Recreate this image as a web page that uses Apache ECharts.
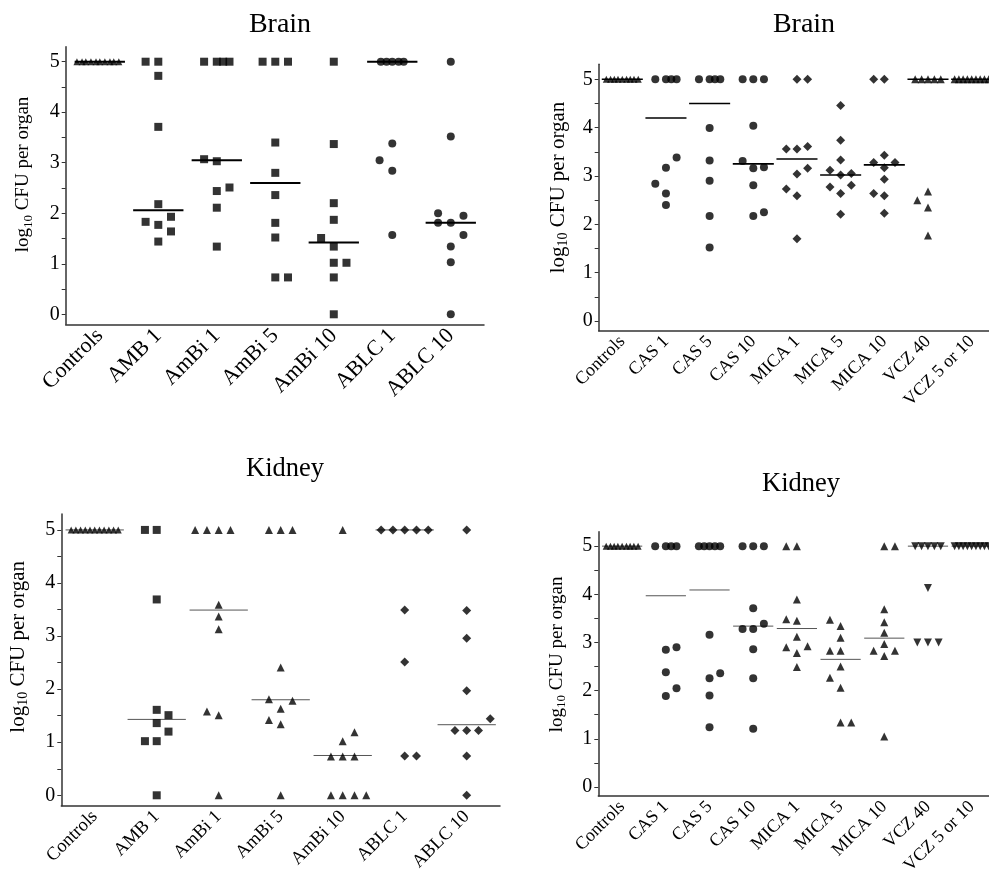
<!DOCTYPE html>
<html>
<head>
<meta charset="utf-8">
<script src="https://cdn.jsdelivr.net/npm/echarts@6/dist/echarts.min.js"></script>
<style>html,body{margin:0;padding:0;background:#fff;}#c{width:989px;height:880px;}</style>
</head>
<body>
<div id="c"></div>
<script>
// ---------- DATA (lane offset, log10 CFU) ----------
const TITLES = ['Brain', 'Brain', 'Kidney', 'Kidney'];
const Y_TICKS = [0, 1, 2, 3, 4, 5];
const Y_MINOR = [0, 0.5, 1, 1.5, 2, 2.5, 3, 3.5, 4, 4.5, 5];

// Panel A: Brain, polyenes
const A_CATS = ['Controls', 'AMB 1', 'AmBi 1', 'AmBi 5', 'AmBi 10', 'ABLC 1', 'ABLC 10'];
const A_CONTROLS = [[-1.8,5],[-1.4,5],[-1.1,5],[-0.7,5],[-0.3,5],[0,5],[0.4,5],[0.8,5],[1.1,5],[1.5,5]];
const A_AMB1 = [[-1,5],[0,5],[0,4.72],[0,3.71],[0,2.18],[-1,1.83],[0,1.77],[1,1.93],[1,1.64],[0,1.44]];
const A_AMBI1 = [[-1,5],[0,5],[0.5,5],[1,5],[-1,3.07],[0,3.03],[0,2.44],[1,2.51],[0,2.11],[0,1.34]];
const A_AMBI5 = [[-1,5],[0,5],[1,5],[0,3.40],[0,2.80],[0,2.36],[0,1.81],[0,1.52],[0,0.73],[1,0.73]];
const A_AMBI10 = [[0,5],[0,3.37],[0,2.20],[0,1.87],[-1,1.51],[0,1.34],[0,1.02],[1,1.02],[0,0.73],[0,0]];
const A_ABLC1 = [[-0.9,5],[-0.45,5],[0,5],[0.5,5],[0.9,5],[-1,3.05],[0,3.38],[0,2.84],[0,1.57]];
const A_ABLC10 = [[0,5],[0,3.52],[-1,2.0],[1,1.95],[-1,1.81],[0,1.81],[1,1.57],[0,1.34],[0,1.03],[0,0]];
const A_MEDIANS = [5, 2.06, 3.05, 2.60, 1.42, 5, 1.81];

// Panel B: Brain, echinocandins / voriconazole
const B_CATS = ['Controls', 'CAS 1', 'CAS 5', 'CAS 10', 'MICA 1', 'MICA 5', 'MICA 10', 'VCZ 40', 'VCZ 5 or 10'];
const B_CONTROLS = [[-1.5,5],[-1.1,5],[-0.75,5],[-0.4,5],[0,5],[0.4,5],[0.75,5],[1.1,5],[1.5,5]];
const B_CAS1 = [[-1,5],[0,5],[0.5,5],[1,5],[-1,2.84],[0,3.17],[0,2.64],[0,2.40],[1,3.38]];
const B_CAS5 = [[-1,5],[0,5],[0.5,5],[1,5],[0,3.99],[0,3.32],[0,2.90],[0,2.17],[0,1.52]];
const B_CAS10 = [[-1,5],[0,5],[1,5],[-1,3.31],[0,4.04],[0,3.16],[1,3.18],[0,2.81],[0,2.17],[1,2.25]];
const B_MICA1 = [[0,5],[1,5],[-1,3.56],[0,3.56],[1,3.61],[0,3.04],[1,3.16],[-1,2.73],[0,2.59],[0,1.70]];
const B_MICA5 = [[0,4.46],[0,3.74],[0,3.33],[-1,3.12],[0,3.02],[1,3.05],[-1,2.77],[1,2.81],[0,2.64],[0,2.21]];
const B_MICA10 = [[-1,5],[0,5],[-1,3.28],[0,3.43],[1,3.28],[0,3.17],[0,2.93],[-1,2.64],[0,2.59],[0,2.23]];
const B_VCZ40 = [[-1.2,5],[-0.6,5],[0,5],[0.6,5],[1.2,5],[-1,2.50],[0,2.68],[0,2.35],[0,1.77]];
const B_VCZ510 = [[-1.6,5],[-1.2,5],[-0.8,5],[-0.4,5],[0,5],[0.4,5],[0.8,5],[1.2,5],[1.6,5]];
const B_MEDIANS = [5, 4.2, 4.5, 3.25, 3.35, 3.02, 3.23, 5, 5];

// Panel C: Kidney, polyenes
const C_CATS = ['Controls', 'AMB 1', 'AmBi 1', 'AmBi 5', 'AmBi 10', 'ABLC 1', 'ABLC 10'];
const C_CONTROLS = [[-2,5],[-1.6,5],[-1.2,5],[-0.8,5],[-0.4,5],[0,5],[0.4,5],[0.8,5],[1.2,5],[1.6,5],[2,5]];
const C_AMB1 = [[-1,5],[0,5],[0,3.69],[0,1.61],[1,1.51],[0,1.36],[1,1.20],[-1,1.02],[0,1.02],[0,0]];
const C_AMBI1 = [[-2,5],[-1,5],[0,5],[1,5],[0,3.59],[0,3.37],[0,3.13],[-1,1.58],[0,1.51],[0,0]];
const C_AMBI5 = [[-1,5],[0,5],[1,5],[0,2.41],[-1,1.81],[1,1.78],[0,1.63],[-1,1.42],[0,1.34],[0,0]];
const C_AMBI10 = [[0,5],[1,1.19],[0,1.02],[-1,0.73],[0,0.73],[1,0.73],[-1,0],[0,0],[1,0],[2,0]];
const C_ABLC1 = [[-2,5],[-1,5],[0,5],[1,5],[2,5],[0,3.49],[0,2.51],[0,0.74],[1,0.74]];
const C_ABLC10 = [[0,5],[0,3.48],[0,2.96],[0,1.97],[2,1.44],[-1,1.22],[0,1.22],[1,1.22],[0,0.74],[0,0]];
const C_MEDIANS = [5, 1.43, 3.49, 1.80, 0.75, 5, 1.33];

// Panel D: Kidney, echinocandins / voriconazole
const D_CATS = ['Controls', 'CAS 1', 'CAS 5', 'CAS 10', 'MICA 1', 'MICA 5', 'MICA 10', 'VCZ 40', 'VCZ 5 or 10'];
const D_CONTROLS = [[-1.5,5],[-1.1,5],[-0.75,5],[-0.4,5],[0,5],[0.4,5],[0.75,5],[1.1,5],[1.5,5]];
const D_CAS1 = [[-1,5],[0,5],[0.5,5],[1,5],[0,2.85],[1,2.90],[0,2.38],[1,2.05],[0,1.89]];
const D_CAS5 = [[-1,5],[-0.5,5],[0,5],[0.5,5],[1,5],[0,3.16],[0,2.26],[1,2.36],[0,1.90],[0,1.24]];
const D_CAS10 = [[-1,5],[0,5],[1,5],[0,3.71],[1,3.39],[-1,3.28],[0,3.28],[0,2.86],[0,2.26],[0,1.21]];
const D_MICA1 = [[-1,5],[0,5],[0,3.89],[-1,3.48],[0,3.45],[0,3.12],[-1,2.90],[1,2.92],[0,2.78],[0,2.49]];
const D_MICA5 = [[-1,3.47],[0,3.34],[0,3.10],[-1,2.83],[0,2.83],[0,2.50],[-1,2.27],[0,2.06],[0,1.34],[1,1.34]];
const D_MICA10 = [[0,5],[1,5],[0,3.69],[0,3.42],[0,3.20],[0,2.97],[-1,2.83],[1,2.83],[0,2.72],[0,1.05]];
const D_VCZ40 = [[-1.2,5],[-0.6,5],[0,5],[0.6,5],[1.2,5],[0,4.13],[-1,3.0],[0,3.0],[1,3.0]];
const D_VCZ510 = [[-1.6,5],[-1.2,5],[-0.8,5],[-0.4,5],[0,5],[0.4,5],[0.8,5],[1.2,5],[1.6,5]];
const D_MEDIANS = [5, 3.97, 4.09, 3.34, 3.29, 2.65, 3.09, 5, 5];

// ---------- LAYOUT / STYLE ----------
const FONT = 'Liberation Serif';
const panels = [
  { cats: A_CATS, groups: [A_CONTROLS, A_AMB1, A_AMBI1, A_AMBI5, A_AMBI10, A_ABLC1, A_ABLC10], medians: A_MEDIANS,
    symbols: ['triangle','rect','rect','rect','rect','circle','circle'],
    grid: { left: 65.7, top: 46.7, width: 418.3, height: 277.6 }, xr: [-0.583, 6.568], yr: [-0.198, 5.297],
    step: 0.217, hw: 0.43, lineColor: '#000', lineW: 2, title: { x: 275, y: 6, size: 28 },
    tick: 20, cat: 22, name: 19, nameGap: 31, nameShift: 22 },
  { cats: B_CATS, groups: [B_CONTROLS, B_CAS1, B_CAS5, B_CAS10, B_MICA1, B_MICA5, B_MICA10, B_VCZ40, B_VCZ510], medians: B_MEDIANS,
    symbols: ['triangle','circle','circle','circle','diamond','diamond','diamond','triangle','triangle'],
    grid: { left: 598.7, top: 64.3, width: 390.3, height: 266.4 }, xr: [-0.54, 8.397], yr: [-0.2, 5.31],
    step: 0.244, hw: 0.47, lineColor: '#000', lineW: 1.6, title: { x: 799, y: 6, size: 28 },
    tick: 20, cat: 18, name: 21, nameGap: 28, nameShift: 20 },
  { cats: C_CATS, groups: [C_CONTROLS, C_AMB1, C_AMBI1, C_AMBI5, C_AMBI10, C_ABLC1, C_ABLC10], medians: C_MEDIANS,
    symbols: ['triangle','rect','triangle','triangle','triangle','diamond','diamond'],
    grid: { left: 61.3, top: 514, width: 438.7, height: 291.7 }, xr: [-0.539, 6.537], yr: [-0.196, 5.30],
    step: 0.19, hw: 0.47, lineColor: '#555', lineW: 1, title: { x: 280, y: 451, size: 26.5 },
    tick: 20, cat: 18.5, name: 21, nameGap: 31, nameShift: 26 },
  { cats: D_CATS, groups: [D_CONTROLS, D_CAS1, D_CAS5, D_CAS10, D_MICA1, D_MICA5, D_MICA10, D_VCZ40, D_VCZ510], medians: D_MEDIANS,
    symbols: ['triangle','circle','circle','circle','triangle','triangle','triangle','down','down'],
    grid: { left: 598.3, top: 531.7, width: 390.7, height: 264.3 }, xr: [-0.546, 8.397], yr: [-0.187, 5.30],
    step: 0.244, hw: 0.46, lineColor: '#555', lineW: 1, title: { x: 796, y: 466, size: 26.5 },
    tick: 20, cat: 18, name: 19, nameGap: 30, nameShift: 19 }
];

const symSize = { triangle: 8, rect: 8, circle: 8, diamond: 9, down: 8 };

const option = { animation: false, backgroundColor: '#fff', title: [], grid: [], xAxis: [], yAxis: [], series: [] };

panels.forEach((p, pi) => {
  option.title.push({ text: TITLES[pi], left: p.title.x, top: p.title.y, textAlign: 'center',
    textStyle: { fontFamily: FONT, fontSize: p.title.size, fontWeight: 'normal', color: '#000' } });
  option.grid.push(Object.assign({ containLabel: false }, p.grid));
  const catIdx = p.cats.map((c, i) => i);
  option.xAxis.push({ type: 'value', gridIndex: pi, min: p.xr[0], max: p.xr[1],
    axisLine: { show: true, onZero: false, lineStyle: { color: '#333', width: 1.5 } },
    axisTick: { show: false }, splitLine: { show: false },
    axisLabel: { customValues: catIdx, formatter: v => p.cats[Math.round(v)], rotate: 45, margin: 8,
      fontFamily: FONT, fontSize: p.cat, color: '#000' } });
  option.yAxis.push({ type: 'value', gridIndex: pi, min: p.yr[0], max: p.yr[1],
    name: '{n|log}{s|10}{n| CFU per organ}', nameLocation: 'middle', nameRotate: 90, nameGap: p.nameGap,
    nameTextStyle: { padding: [0, 0, 0, p.nameShift], rich: {
      n: { fontFamily: FONT, fontSize: p.name, color: '#000' },
      s: { fontFamily: FONT, fontSize: Math.round(p.name * 0.68), color: '#000', padding: [10, 0, 0, 0] } } },
    axisLine: { show: true, onZero: false, lineStyle: { color: '#333', width: 1.5 } },
    axisTick: { show: true, customValues: Y_MINOR, length: 4, lineStyle: { color: '#333' } },
    splitLine: { show: false },
    axisLabel: { customValues: Y_TICKS, margin: 6, fontFamily: FONT, fontSize: p.tick, color: '#000' } });

  p.groups.forEach((g, gi) => {
    const sym = p.symbols[gi];
    const isCtrl = gi === 0;
    option.series.push({ type: 'scatter', xAxisIndex: pi, yAxisIndex: pi,
      symbol: sym === 'down' ? 'triangle' : sym, symbolRotate: sym === 'down' ? 180 : 0,
      symbolSize: isCtrl ? 7 : symSize[sym],
      itemStyle: { color: '#000' }, silent: true, z: 3,
      data: g.map(d => [gi + d[0] * p.step, d[1]]) });
  });

  option.series.push({ type: 'custom', xAxisIndex: pi, yAxisIndex: pi, silent: true, z: 2,
    data: p.medians.map((m, i) => [i, m]),
    renderItem: (params, api) => {
      const x = api.value(0), y = api.value(1);
      const a = api.coord([x - p.hw, y]), b = api.coord([x + p.hw, y]);
      return { type: 'line', shape: { x1: a[0], y1: a[1], x2: b[0], y2: b[1] },
        style: { stroke: p.lineColor, lineWidth: p.lineW } };
    } });
});

const chart = echarts.init(document.getElementById('c'), null, { renderer: 'canvas' });
chart.setOption(option);
</script>
</body>
</html>
